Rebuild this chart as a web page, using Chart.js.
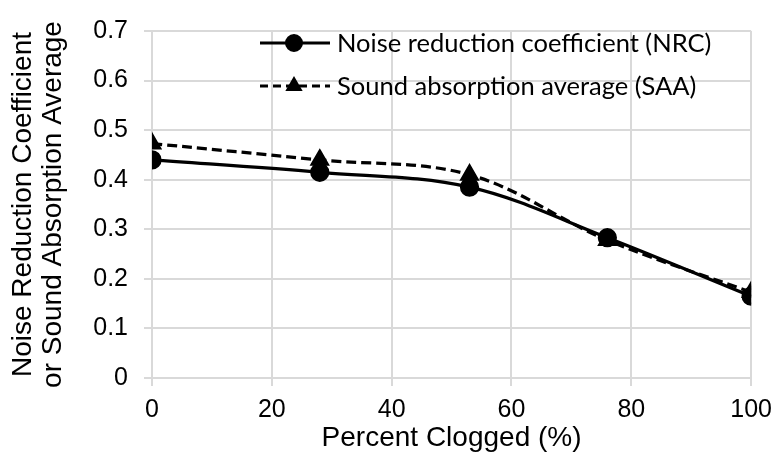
<!DOCTYPE html>
<html>
<head>
<meta charset="utf-8">
<script src="https://cdn.jsdelivr.net/npm/chart.js@4/dist/chart.umd.min.js"></script>
<style>
  html, body { margin: 0; padding: 0; background: #ffffff; }
  #wrap { width: 781px; height: 461px; position: relative; }
</style>
</head>
<body>
<div id="wrap"><canvas id="chart"></canvas></div>
<script>
// Percent of the surface clogged, and the two acoustic measures at each level
const percentClogged = [0, 28, 53, 76, 100];
const nrcValues = [0.44, 0.415, 0.385, 0.283, 0.165];
const saaValues = [0.473, 0.44, 0.41, 0.278, 0.173];
const seriesLabels = ['Noise reduction coefficient (NRC)', 'Sound absorption average (SAA)'];
const xTickValues = [0, 20, 40, 60, 80, 100];
const yTickValues = [0, 0.1, 0.2, 0.3, 0.4, 0.5, 0.6, 0.7];
const xTitle = 'Percent Clogged (%)';
const yTitle = ['Noise Reduction Coefficient', 'or Sound Absorption Average'];

const GRID = '#d9d9d9';
const AXIS_FONT = "'Liberation Sans', Arial, sans-serif";
const LEGEND_FONT = "Lato, 'Open Sans', sans-serif";

function toPoints(xs, ys) {
  return xs.map((x, i) => ({ x: x, y: ys[i] }));
}

// Legend drawn inside the plot: line sample with its marker, then the label
const insideLegend = {
  id: 'insideLegend',
  afterDraw(chart) {
    const ctx = chart.ctx;
    const rows = [43, 86];
    const x0 = 260, x1 = 330, xm = 294, xt = 337;
    chart.data.datasets.forEach((ds, i) => {
      const y = rows[i];
      ctx.save();
      ctx.strokeStyle = '#000';
      ctx.lineWidth = 3;
      ctx.setLineDash(ds.borderDash ? [8, 5] : []);
      ctx.beginPath();
      ctx.moveTo(x0, y);
      ctx.lineTo(x1, y);
      ctx.stroke();
      ctx.setLineDash([]);
      Chart.helpers.drawPoint(ctx, {
        pointStyle: ds.pointStyle,
        radius: ds.pointStyle === 'triangle' ? 7 : 7.5,
        borderWidth: 1,
        rotation: 0
      }, xm, y);
      ctx.fillStyle = '#000';
      ctx.fill();
      ctx.font = '25.5px ' + LEGEND_FONT;
      ctx.textAlign = 'left';
      ctx.textBaseline = 'middle';
      ctx.fillText(ds.label, xt, y + 1);
      ctx.restore();
    });
  }
};

new Chart(document.getElementById('chart'), {
  type: 'line',
  data: {
    datasets: [
      {
        label: seriesLabels[0],
        data: toPoints(percentClogged, nrcValues),
        borderColor: '#000',
        backgroundColor: '#000',
        borderWidth: 3.25,
        pointStyle: 'circle',
        pointRadius: 8,
        pointBackgroundColor: '#000',
        pointBorderColor: '#000',
        tension: 0.35
      },
      {
        label: seriesLabels[1],
        data: toPoints(percentClogged, saaValues),
        borderColor: '#000',
        backgroundColor: '#000',
        borderWidth: 3.25,
        borderDash: [10, 5],
        pointStyle: 'triangle',
        pointRadius: 8.5,
        pointBackgroundColor: '#000',
        pointBorderColor: '#000',
        tension: 0.35
      }
    ]
  },
  options: {
    responsive: true,
    maintainAspectRatio: false,
    animation: false,
    events: [],
    layout: { padding: { top: 18, right: 27, left: 0, bottom: 0 } },
    plugins: {
      legend: { display: false },
      tooltip: { enabled: false }
    },
    scales: {
      x: {
        type: 'linear',
        min: xTickValues[0],
        max: xTickValues[xTickValues.length - 1],
        afterBuildTicks(scale) { scale.ticks = xTickValues.map(v => ({ value: v })); },
        afterFit(scale) { scale.height = 83; },
        grid: { color: GRID, lineWidth: 2, tickLength: 8, tickColor: GRID, drawTicks: true },
        border: { color: GRID, width: 2 },
        ticks: {
          color: '#000',
          padding: 9,
          font: { family: AXIS_FONT, size: 25 },
          callback: v => String(v)
        },
        title: {
          display: true,
          text: xTitle,
          color: '#000',
          font: { family: AXIS_FONT, size: 28, lineHeight: 1.2 },
          padding: { top: 0, bottom: 6 }
        }
      },
      y: {
        type: 'linear',
        min: yTickValues[0],
        max: yTickValues[yTickValues.length - 1],
        afterBuildTicks(scale) { scale.ticks = yTickValues.map(v => ({ value: v })); },
        afterFit(scale) { scale.width = 152; },
        grid: { color: GRID, lineWidth: 2, tickLength: 8, tickColor: GRID, drawTicks: true },
        border: { color: GRID, width: 2 },
        ticks: {
          color: '#000',
          padding: 16,
          font: { family: AXIS_FONT, size: 25 },
          callback: v => (v === 0 ? '0' : v.toFixed(1))
        },
        title: {
          display: true,
          text: yTitle,
          color: '#000',
          font: { family: AXIS_FONT, size: 28, lineHeight: 30 / 28 },
          padding: { top: 8, bottom: 0 }
        }
      }
    }
  },
  plugins: [insideLegend]
});
</script>
</body>
</html>
